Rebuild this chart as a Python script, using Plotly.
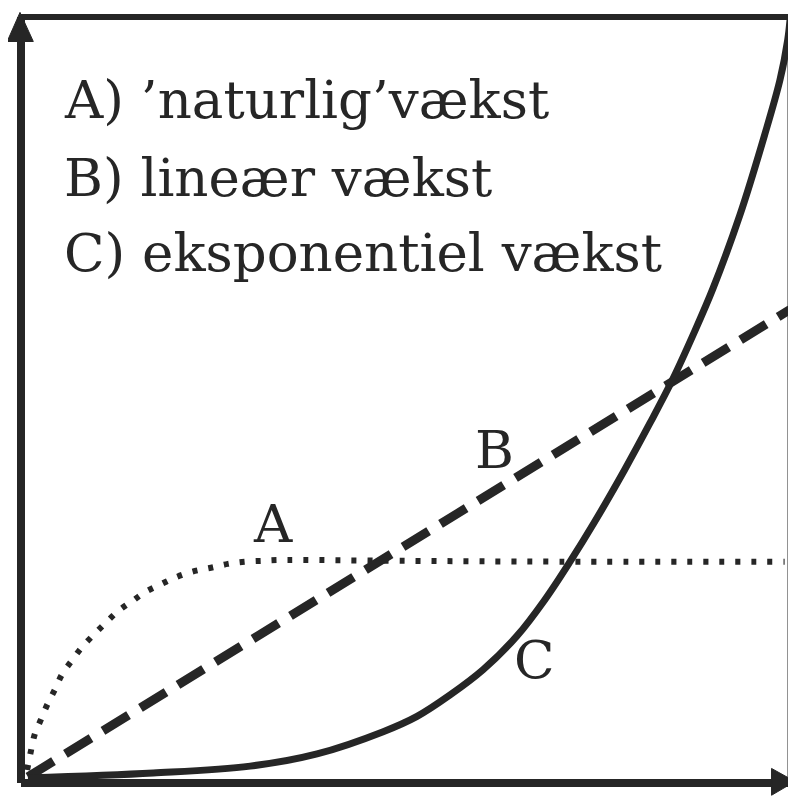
import plotly.graph_objects as go

# Curve A: 'naturlig' vækst (dotted)
a_x = [0.8, 1.4, 1.8, 2.6, 3.4, 4.4, 5.4, 6.7, 7.9, 9.5, 11.1, 12.7, 14.4, 16.1, 18.1,
       20.0, 22.3, 24.7, 26.9, 29.1, 31.4, 33.3, 50.0, 70.0, 99.3]
a_y = [1.7, 4.7, 6.4, 8.3, 10.2, 12.2, 14.3, 16.1, 17.7, 19.4, 21.0, 22.5, 23.7, 24.9, 25.9,
       26.8, 27.6, 28.1, 28.6, 28.9, 29.0, 29.1, 29.0, 28.9, 28.9]

# Curve B: lineær vækst (dashed)
b_x = [0.9, 100.0]
b_y = [0.8, 61.8]

# Curve C: eksponentiel vækst (solid)
c_x = [0.9, 17.2, 29.8, 38.5, 47.1, 51.5, 55.8, 60.1, 64.5, 68.1, 71.4, 74.6, 78.5,
       81.8, 84.7, 87.4, 90.0, 93.5, 96.7, 98.7, 99.7, 100.0]
c_y = [0.65, 1.3, 2.2, 3.8, 6.7, 8.7, 11.5, 14.8, 19.2, 23.9, 28.9, 34.1, 40.9,
       47.0, 52.6, 58.5, 64.6, 74.2, 84.6, 91.8, 97.0, 99.6]

legend_lines = ["A) ’naturlig’vækst", "B) lineær vækst", "C) eksponentiel vækst"]
curve_labels = ["A", "B", "C"]
label_x = [32.8, 61.6, 66.8]
label_y = [33.9, 43.5, 16.1]

INK = "#262626"
FONT = "DejaVu Serif"

fig = go.Figure()
fig.add_trace(go.Scatter(x=a_x, y=a_y, mode="lines", line=dict(color=INK, width=6, dash="5px,11px", shape="spline"), hoverinfo="skip"))
fig.add_trace(go.Scatter(x=b_x, y=b_y, mode="lines", line=dict(color=INK, width=9, dash="30px,14px"), hoverinfo="skip"))
fig.add_trace(go.Scatter(x=c_x, y=c_y, mode="lines", line=dict(color=INK, width=7, shape="spline"), hoverinfo="skip"))

for lx, ly, t in zip(label_x, label_y, curve_labels):
    fig.add_annotation(x=lx, y=ly, text=t, showarrow=False, xref="x", yref="y",
                       font=dict(family=FONT, size=53, color=INK), xanchor="center", yanchor="middle")

legend_y = [0.892, 0.790, 0.692]
for t, yy in zip(legend_lines, legend_y):
    fig.add_annotation(x=0.053, y=yy, text=t, showarrow=False, xref="paper", yref="paper",
                       font=dict(family=FONT, size=53, color=INK), xanchor="left", yanchor="middle")

# Frame
fig.add_shape(type="line", xref="paper", yref="paper", x0=0, y0=0, x1=1.0, y1=0, line=dict(color=INK, width=8))
fig.add_shape(type="line", xref="paper", yref="paper", x0=0, y0=0, x1=0, y1=1.0, line=dict(color=INK, width=8))
fig.add_shape(type="line", xref="paper", yref="paper", x0=0, y0=1.0, x1=1.0, y1=1.0, line=dict(color=INK, width=6))
fig.add_shape(type="line", xref="paper", yref="paper", x0=1.0, y0=0, x1=1.0, y1=1.0, line=dict(color=INK, width=5))
# Arrowheads
fig.add_shape(type="path", xref="paper", yref="paper",
              path="M -0.0013 1.006 L -0.018 0.968 L 0.016 0.968 Z",
              fillcolor=INK, line=dict(color=INK, width=1))
fig.add_shape(type="path", xref="paper", yref="paper",
              path="M 1.0065 0.002 L 0.976 0.019 L 0.976 -0.016 Z",
              fillcolor=INK, line=dict(color=INK, width=1))

fig.update_xaxes(range=[0, 100], showgrid=False, zeroline=False, showticklabels=False, showline=False, fixedrange=True)
fig.update_yaxes(range=[0, 100], showgrid=False, zeroline=False, showticklabels=False, showline=False, fixedrange=True)
fig.update_layout(width=788, height=788, margin=dict(l=13, r=6, t=9, b=13),
                  plot_bgcolor="white", paper_bgcolor="white", showlegend=False)

fig.write_html("out.html")
